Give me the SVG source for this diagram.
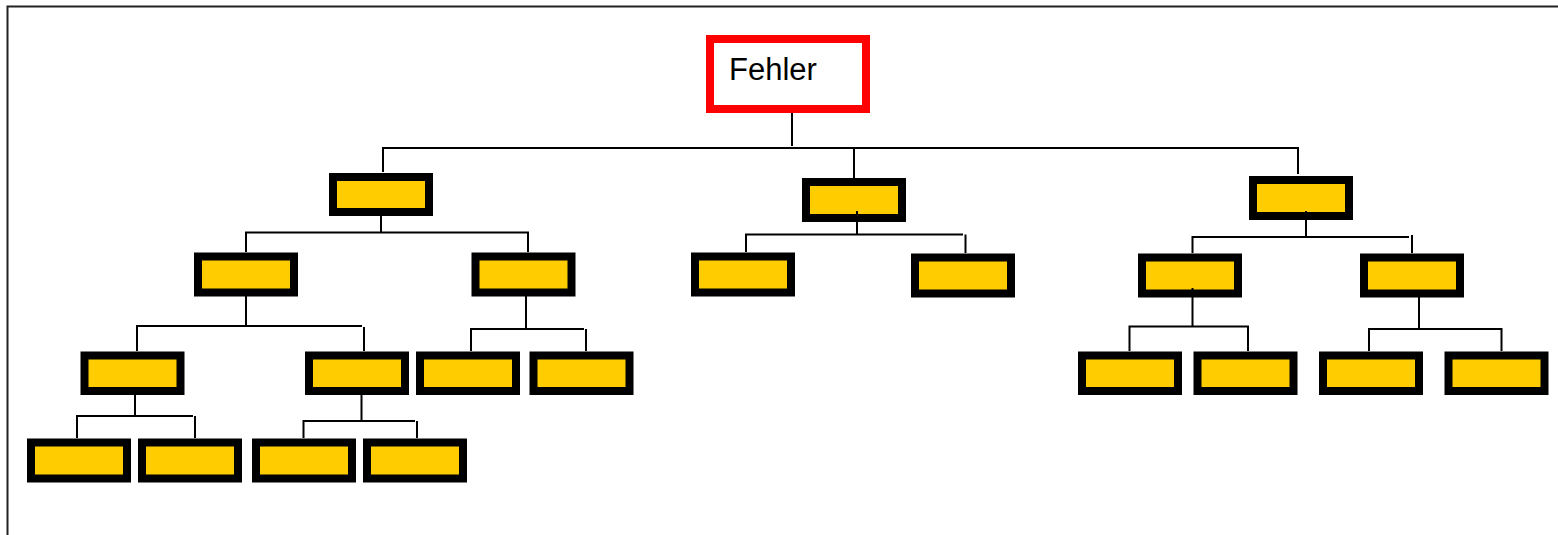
<svg xmlns="http://www.w3.org/2000/svg" width="1558" height="535" viewBox="0 0 1558 535">
  <style>
    .frame { fill: none; stroke: #222; stroke-width: 2; }
    .root { fill: #fff; stroke: #ff0000; stroke-width: 8; }
    .box { fill: #ffcc00; stroke: #000; stroke-width: 8; }
    .wire { fill: none; stroke: #000; stroke-width: 2; }
    .label { font-family: "Liberation Sans", Arial, sans-serif; font-size: 31px; fill: #000; }
  </style>
  <rect width="1558" height="535" fill="#fff"/>
  <!-- open page frame: top and left edge only -->
  <path class="frame" d="M7.5,535 V6.5 H1558"/>

  <g id="node-fehler">
    <rect class="root" x="710" y="39" width="156" height="70"/>
    <text class="label" x="729" y="80">Fehler</text>
  </g>

  <g id="node-l1a"><rect class="box" x="333" y="177" width="96" height="35"/></g>
  <g id="node-l1b"><rect class="box" x="806" y="182" width="96" height="36"/></g>
  <g id="node-l1c"><rect class="box" x="1253" y="180" width="96" height="36"/></g>

  <g id="node-l2a"><rect class="box" x="198" y="256.5" width="96" height="36"/></g>
  <g id="node-l2b"><rect class="box" x="475.5" y="256.5" width="96" height="36"/></g>
  <g id="node-l2c"><rect class="box" x="695" y="256.5" width="96" height="36"/></g>
  <g id="node-l2d"><rect class="box" x="915" y="257.5" width="96" height="36"/></g>
  <g id="node-l2e"><rect class="box" x="1142" y="257.5" width="96" height="36"/></g>
  <g id="node-l2f"><rect class="box" x="1364" y="257.5" width="96" height="36"/></g>

  <g id="node-l3a"><rect class="box" x="84.5" y="355.5" width="96" height="35.5"/></g>
  <g id="node-l3b"><rect class="box" x="309" y="355.5" width="96" height="35.5"/></g>
  <g id="node-l3c"><rect class="box" x="420" y="355.5" width="96" height="35.5"/></g>
  <g id="node-l3d"><rect class="box" x="533.5" y="355.5" width="96" height="35.5"/></g>
  <g id="node-l3e"><rect class="box" x="1082" y="355.5" width="96" height="35.5"/></g>
  <g id="node-l3f"><rect class="box" x="1197.5" y="355.5" width="96" height="35.5"/></g>
  <g id="node-l3g"><rect class="box" x="1323" y="355.5" width="96" height="35.5"/></g>
  <g id="node-l3h"><rect class="box" x="1448.5" y="355.5" width="96" height="35.5"/></g>

  <g id="node-l4a"><rect class="box" x="31" y="442.5" width="96" height="36"/></g>
  <g id="node-l4b"><rect class="box" x="142" y="442.5" width="96" height="36"/></g>
  <g id="node-l4c"><rect class="box" x="256" y="442.5" width="96" height="36"/></g>
  <g id="node-l4d"><rect class="box" x="367" y="442.5" width="96" height="36"/></g>

  <!-- connectors drawn last; a few stubs reach slightly into their parent box -->
  <g id="connectors">
    <!-- root to level 1 -->
    <path class="wire" d="M792,113 V146"/>
    <path class="wire" d="M383,172 V148 H1298 V174"/>
    <path class="wire" d="M854,148 V178"/>
    <!-- left branch -->
    <path class="wire" d="M381,216 V232.5"/>
    <path class="wire" d="M246,252 V232.5 H528 V252"/>
    <path class="wire" d="M246,296 V326"/>
    <path class="wire" d="M137,351 V326 H362"/>
    <path class="wire" d="M364,327 V351"/>
    <path class="wire" d="M526,296 V329"/>
    <path class="wire" d="M471,351 V329 H584"/>
    <path class="wire" d="M586,329 V351"/>
    <path class="wire" d="M135,395 V416"/>
    <path class="wire" d="M77,438 V416 H193"/>
    <path class="wire" d="M195,416 V438"/>
    <path class="wire" d="M361.5,395 V421"/>
    <path class="wire" d="M303.5,438 V421 H415"/>
    <path class="wire" d="M417,421 V438"/>
    <!-- middle branch -->
    <path class="wire" d="M857,211 V234.5"/>
    <path class="wire" d="M746,252 V234.5 H963"/>
    <path class="wire" d="M965.5,234.5 V253"/>
    <!-- right branch -->
    <path class="wire" d="M1306,211 V237"/>
    <path class="wire" d="M1192.5,253 V237 H1409"/>
    <path class="wire" d="M1412,235 V253"/>
    <path class="wire" d="M1192.5,288 V326.5"/>
    <path class="wire" d="M1129.5,351 V326.5 H1248 V351"/>
    <path class="wire" d="M1419,297 V329"/>
    <path class="wire" d="M1369,351 V329 H1501.5 V351"/>
  </g>
</svg>
